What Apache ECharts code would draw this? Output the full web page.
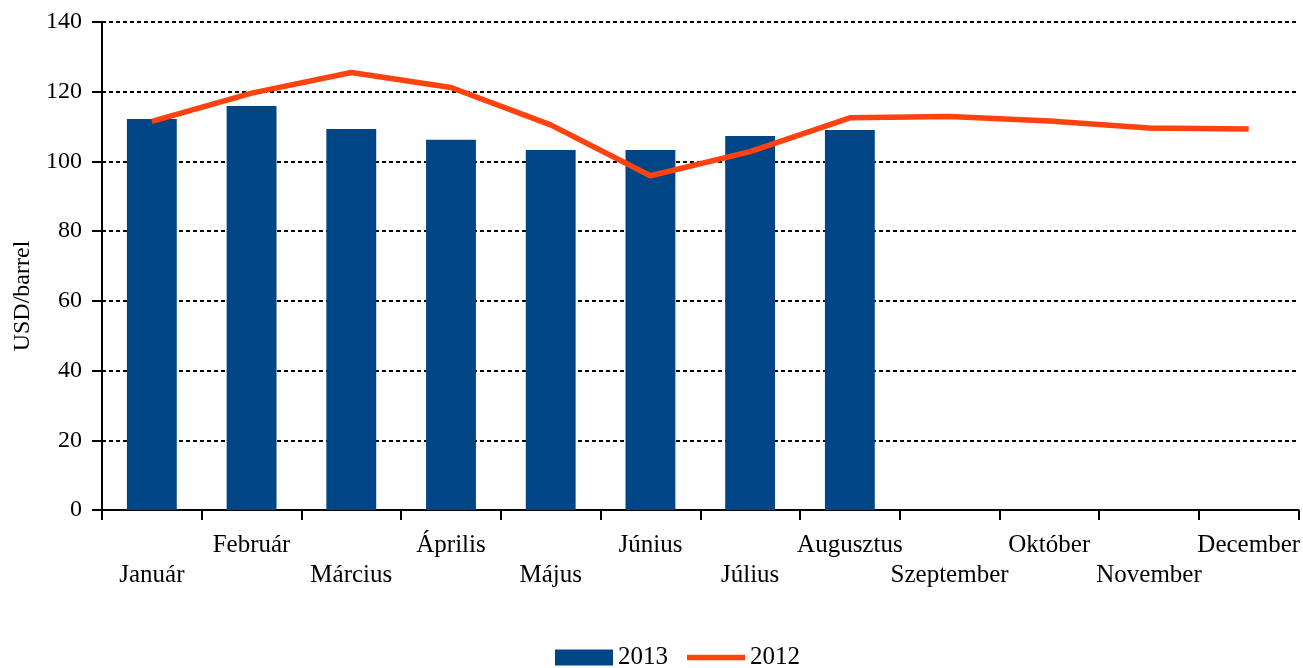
<!DOCTYPE html>
<html>
<head>
<meta charset="utf-8">
<script src="https://cdn.jsdelivr.net/npm/echarts@6/dist/echarts.min.js"></script>
<style>
html,body{margin:0;padding:0;background:#fff;}
#chart{width:1303px;height:668px;}
</style>
</head>
<body>
<div id="chart"></div>
<script>
var categories = ['Január','Február','Március','Április','Május','Június','Július','Augusztus','Szeptember','Október','November','December'];
var values2013 = [112.2, 115.9, 109.3, 106.2, 103.3, 103.3, 107.3, 109.0, null, null, null, null];
var values2012 = [111.5, 119.6, 125.5, 121.2, 110.5, 95.9, 102.8, 112.5, 112.9, 111.6, 109.6, 109.3];
var yTicks = [0, 20, 40, 60, 80, 100, 120, 140];

var font = 'Liberation Serif, Times New Roman, serif';
var lineIcon = 'path://M0,0 L58,0 L58,0.01 L0,0.01 Z M0,5.2 L58,5.2 L58,10.8 L0,10.8 Z M0,15.99 L58,15.99 L58,16 L0,16 Z';
var chart = echarts.init(document.getElementById('chart'));
chart.setOption({
  animation: false,
  backgroundColor: '#ffffff',
  grid: {left: 102, right: 3, top: 22, bottom: 158, containLabel: false},
  legend: {
    top: 640,
    left: 550,
    itemWidth: 58,
    itemHeight: 16,
    itemGap: 19,
    itemTextGap: 6,
    textStyle: {fontFamily: font, fontSize: 25, color: '#000'},
    data: [{name: '2013', icon: 'rect'}, {name: '2012', icon: lineIcon}]
  },
  xAxis: {
    type: 'category',
    data: categories,
    boundaryGap: true,
    axisLine: {lineStyle: {color: '#000', width: 2}},
    axisTick: {show: true, length: 10, lineStyle: {color: '#000', width: 2}},
    axisLabel: {
      interval: 0,
      margin: 20,
      fontFamily: font,
      fontSize: 25,
      color: '#000',
      lineHeight: 30,
      formatter: function (v, i) { return i % 2 === 0 ? '\n' + v : v; }
    },
    splitLine: {show: false}
  },
  yAxis: {
    type: 'value',
    min: yTicks[0],
    max: yTicks[yTicks.length - 1],
    interval: 20,
    name: 'USD/barrel',
    nameLocation: 'middle',
    nameGap: 64,
    nameTextStyle: {fontFamily: font, fontSize: 24, color: '#000', padding: [0, 60, 0, 0]},
    axisLine: {show: true, lineStyle: {color: '#000', width: 2}},
    axisTick: {show: true, length: 10, lineStyle: {color: '#000', width: 2}},
    axisLabel: {margin: 20, fontFamily: font, fontSize: 24, color: '#000'},
    splitLine: {show: true, lineStyle: {color: '#000', width: 2, type: [4, 3]}}
  },
  series: [
    {
      name: '2013',
      type: 'bar',
      data: values2013,
      barWidth: '50%',
      itemStyle: {color: '#004586'}
    },
    {
      name: '2012',
      type: 'line',
      data: values2012,
      symbol: 'none',
      lineStyle: {color: '#ff420e', width: 5.5},
      itemStyle: {color: '#ff420e'}
    }
  ]
});
</script>
</body>
</html>
